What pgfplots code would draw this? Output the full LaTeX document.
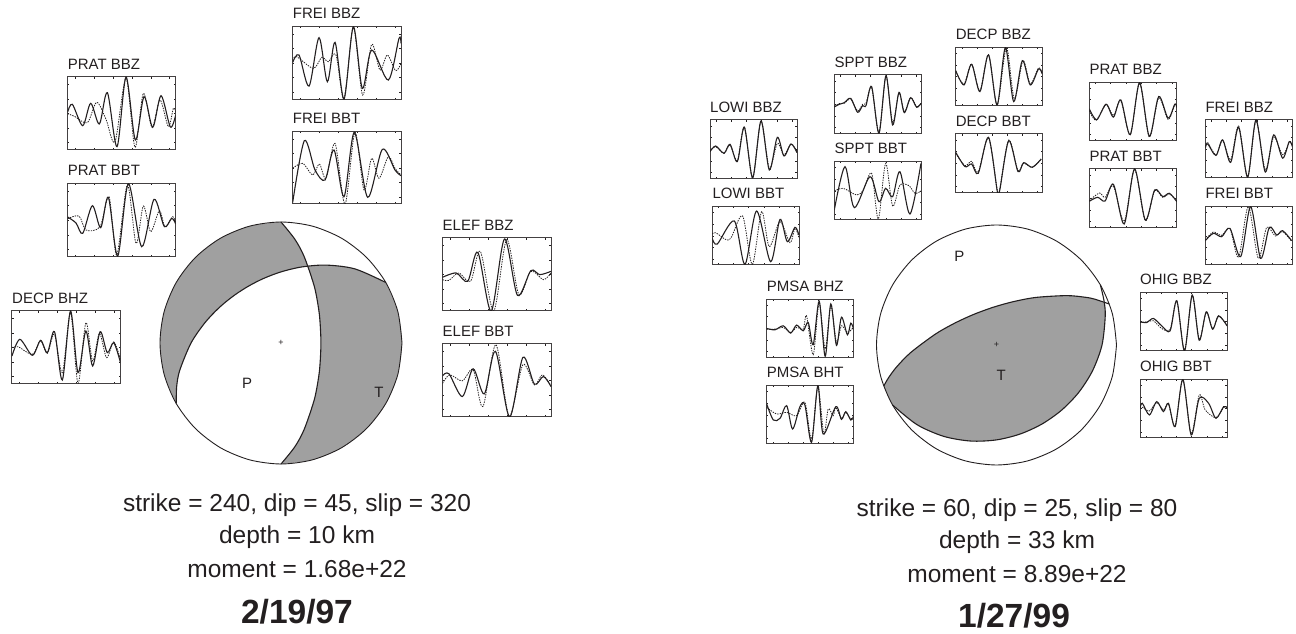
\documentclass[border=0pt]{standalone}
\usepackage{pgfplots}
\pgfplotsset{compat=1.18}
\usepackage{fontspec}
\setmainfont{Liberation Sans}
\definecolor{ink}{HTML}{231F20}
\definecolor{ballgray}{HTML}{A0A0A0}
\newcommand\wf[9]{%
\pgfmathsetmacro\xa{#5*.071}\pgfmathsetmacro\xb{#5*.244}\pgfmathsetmacro\xc{#5*.418}%
\pgfmathsetmacro\xd{#5*.594}\pgfmathsetmacro\xe{#5*.769}\pgfmathsetmacro\xf{#5*.944}%
\pgfmathsetmacro\ya{#6*.1}\pgfmathsetmacro\yb{#6*.3}\pgfmathsetmacro\yc{#6*.5}%
\pgfmathsetmacro\yd{#6*.7}\pgfmathsetmacro\ye{#6*.9}%
\begin{axis}[at={(#1pt,634pt-#2pt)},anchor=north west,scale only axis,width=#3pt,height=#4pt,
 xmin=0,xmax=#5,ymin=0,ymax=#6,y dir=reverse,
 xtick={\xa,\xb,\xc,\xd,\xe,\xf},ytick={\ya,\yb,\yc,\yd,\ye},
 xticklabels={},yticklabels={},tick align=inside,major tick length=1.6pt,
 tick style={ink,line width=.5pt},axis line style={ink!85,line width=1pt},
 title={\fontsize{15}{17}\selectfont #7},
 title style={at={(0,1)},anchor=south west,inner sep=0pt,yshift=1.5pt,text=ink}]
\addplot[ink,line width=.8pt,dash pattern=on 1.4pt off 1.1pt,smooth] coordinates {#9};
\addplot[ink,line width=1.1pt,smooth] coordinates {#8};
\end{axis}}
\begin{document}
\begin{tikzpicture}[x=1pt,y=1pt]
% ---- page frame and text
\begin{axis}[at={(0,0)},anchor=south west,scale only axis,width=1296pt,height=634pt,
 xmin=0,xmax=1296,ymin=0,ymax=634,y dir=reverse,hide axis]
\addplot[draw=none] coordinates {(0,0) (1296,634)};
\tikzset{lab/.style={text=ink,font=\fontsize{24.5}{28}\selectfont,inner sep=0pt},
 dat/.style={text=ink,font=\fontsize{33.5}{38}\bfseries\selectfont,inner sep=0pt}}
\node[lab] at (axis cs:297,505) {strike = 240, dip = 45, slip = 320};
\node[lab] at (axis cs:297,537) {depth = 10 km};
\node[lab] at (axis cs:297,569) {moment = 1.68e+22};
\node[dat] at (axis cs:297,612) {2/19/97};
\node[lab] at (axis cs:1017,510) {strike = 60, dip = 25, slip = 80};
\node[lab] at (axis cs:1017,542) {depth = 33 km};
\node[lab] at (axis cs:1017,574) {moment = 8.89e+22};
\node[dat] at (axis cs:1014,616) {1/27/99};
\end{axis}
% ---- left beachball
\begin{axis}[at={(281pt,291pt)},anchor=center,scale only axis,width=242pt,height=242pt,
 xmin=-1,xmax=1,ymin=-1,ymax=1,hide axis,clip=false]
\addplot[fill=ballgray,draw=none,smooth] coordinates {
(0,1)(0,1)(0,1)(-.2588,.9659)(-.5,.8660)(-.7071,.7071)(-.8660,.5)(-.9659,.2588)(-1,0)(-.9659,-.2588)(-.8660,-.5)(-.8660,-.5)(-.8660,-.5)
(-.8619,-.357)(-.8362,-.2241)(-.7435,0)(-.628,.1683)(-.509,.294)(-.3907,.3907)(-.2706,.4687)(-.143,.5338)(0,.5876)(.1683,.628)(.222,.633)(.222,.633)(.222,.633)
(.1914,.7144)(.1131,.8594)(0,1)(0,1)(0,1)} ;
\addplot[fill=ballgray,draw=none,smooth] coordinates {
(.222,.633)(.222,.633)(.222,.633)(.3718,.6439)(.6121,.6121)(.8660,.5)(.8660,.5)(.8660,.5)
(.9659,.2588)(1,0)(.9659,-.2588)(.8660,-.5)(.7071,-.7071)(.5,-.8660)(.2588,-.9659)(0,-1)(0,-1)(0,-1)
(.1131,-.8594)(.1914,-.7144)(.2736,-.4739)(.3071,-.3071)(.3281,-.0879)(.3301,0)(.3281,.0879)(.3071,.3071)(.2736,.4739)(.222,.633)(.222,.633)(.222,.633)};
\addplot[ink,line width=.9pt,smooth] coordinates {(1,0)(.9659,.2588)(.8660,.5)(.7071,.7071)(.5,.8660)(.2588,.9659)(0,1)(-.2588,.9659)(-.5,.8660)(-.7071,.7071)(-.8660,.5)(-.9659,.2588)(-1,0)(-.9659,-.2588)(-.8660,-.5)(-.7071,-.7071)(-.5,-.8660)(-.2588,-.9659)(0,-1)(.2588,-.9659)(.5,-.8660)(.7071,-.7071)(.8660,-.5)(.9659,-.2588)(1,0)};
\addplot[ink,line width=1.1pt,smooth] coordinates {(-.866,-.5)(-.8619,-.357)(-.8362,-.2241)(-.7435,0)(-.628,.1683)(-.509,.294)(-.3907,.3907)(-.2706,.4687)(-.143,.5338)(0,.5876)(.1683,.628)(.3718,.6439)(.6121,.6121)(.866,.5)};
\addplot[ink,line width=1.1pt,smooth] coordinates {(0,1)(.1131,.8594)(.1914,.7144)(.2736,.4739)(.3071,.3071)(.3218,.1858)(.3301,0)(.3218,-.1858)(.3071,-.3071)(.2736,-.4739)(.1914,-.7144)(.1131,-.8594)(0,-1)};
\node[text=ink,font=\fontsize{15}{17}\selectfont,inner sep=0pt] at (axis cs:-.28,-.33) {P};
\node[text=ink,font=\fontsize{15}{17}\selectfont,inner sep=0pt] at (axis cs:.81,-.41) {T};
\node[text=ink,font=\fontsize{9}{10}\selectfont,inner sep=0pt] at (axis cs:0,0) {+};
\end{axis}
% ---- right beachball
\begin{axis}[at={(996.5pt,289pt)},anchor=center,scale only axis,width=240pt,height=240pt,
 xmin=-1,xmax=1,ymin=-1,ymax=1,hide axis,clip=false]
\addplot[fill=ballgray,draw=none,smooth] coordinates {
(-.9397,-.342)(-.9397,-.342)(-.9397,-.342)(-.9014,-.2756)(-.8344,-.185)(-.7147,-.0625)(-.5104,.09)(-.3683,.1718)(-.2648,.2222)(-.1811,.2586)(-.1047,.2876)(-.0275,.3145)(.06,.3405)(.1718,.3683)(.3332,.397)(.5877,.4115)(.7462,.3968)(.8188,.3818)(.897,.357)(.897,.357)(.897,.357)
(.9062,.2428)(.8792,0)(.8004,-.2145)(.6849,-.3954)(.5427,-.5427)(.3799,-.658)(.1986,-.7413)(0,-.7908)(-.2145,-.8004)(-.4396,-.7614)(-.6634,-.6634)(-.866,-.5)(-.866,-.5)(-.866,-.5)(-.906,-.423)(-.9397,-.342)(-.9397,-.342)};
\addplot[ink,line width=.9pt,smooth] coordinates {(1,0)(.9659,.2588)(.8660,.5)(.7071,.7071)(.5,.8660)(.2588,.9659)(0,1)(-.2588,.9659)(-.5,.8660)(-.7071,.7071)(-.8660,.5)(-.9659,.2588)(-1,0)(-.9659,-.2588)(-.8660,-.5)(-.7071,-.7071)(-.5,-.8660)(-.2588,-.9659)(0,-1)(.2588,-.9659)(.5,-.8660)(.7071,-.7071)(.8660,-.5)(.9659,-.2588)(1,0)};
\addplot[ink,line width=1.1pt,smooth] coordinates {(-.9397,-.342)(-.9014,-.2756)(-.8344,-.185)(-.7147,-.0625)(-.5104,.09)(-.3683,.1718)(-.2648,.2222)(-.1811,.2586)(-.1047,.2876)(-.0275,.3145)(.06,.3405)(.1718,.3683)(.3332,.397)(.5877,.4115)(.7462,.3968)(.8188,.3818)(.9397,.342)};
\addplot[ink,line width=1.1pt,smooth] coordinates {(.866,.5)(.8954,.3709)(.9062,.2428)(.8792,0)(.8004,-.2145)(.6849,-.3954)(.5427,-.5427)(.3799,-.658)(.1986,-.7413)(0,-.7908)(-.2145,-.8004)(-.4396,-.7614)(-.6634,-.6634)(-.866,-.5)};
\node[text=ink,font=\fontsize{15}{17}\selectfont,inner sep=0pt] at (axis cs:-.31,.74) {P};
\node[text=ink,font=\fontsize{15}{17}\selectfont,inner sep=0pt] at (axis cs:.04,-.25) {T};
\node[text=ink,font=\fontsize{9}{10}\selectfont,inner sep=0pt] at (axis cs:0,0) {+};
\end{axis}
% ---- left waveforms
\wf{67.7}{77}{108}{73}{324}{219}{PRAT BBZ}
{(0,105)(14,82)(45,146)(69,79)(95,141)(119,47)(148,209)(175,0)(203,189)(229,59)(255,151)(280,56)(308,150)(324,114)}
{(0,110)(22,119)(59,137)(87,76)(115,127)(142,194)(175,4)(202,211)(227,49)(253,151)(277,69)(302,149)(317,94)(324,105)}
\wf{67.7}{183.7}{108}{73}{324}{219}{PRAT BBT}
{(0,100)(25,118)(45,149)(74,66)(99,132)(122,41)(150,217)(182,0)(222,189)(259,47)(290,129)(312,104)(324,121)}
{(0,105)(34,97)(55,139)(97,129)(124,39)(147,214)(179,4)(205,179)(227,67)(249,144)(275,81)(292,129)(315,99)(324,118)}
\wf{292.7}{26.7}{108.3}{72.7}{325}{218}{FREI BBZ}
{(0,107)(19,85)(49,178)(79,33)(104,165)(127,47)(154,217)(182,0)(209,185)(237,70)(287,160)(319,35)(325,50)}
{(0,100)(12,90)(62,125)(87,92)(107,105)(130,85)(154,215)(182,2)(210,205)(237,53)(262,130)(284,85)(309,132)(325,110)}
\wf{292.7}{131.7}{108.3}{72.3}{325}{217}{FREI BBT}
{(0,212)(35,27)(67,115)(97,145)(124,55)(154,195)(185,2)(225,197)(269,53)(307,115)(325,132)}
{(0,110)(30,95)(60,130)(80,97)(100,140)(127,35)(157,217)(187,2)(214,175)(237,80)(259,140)(287,75)(307,110)(325,130)}
\wf{12}{311}{108.5}{73}{304}{219}{DECP BHZ}
{(0,135)(22,85)(57,133)(80,88)(99,125)(119,62)(141,207)(164,0)(185,185)(207,60)(226,165)(247,62)(267,125)(285,95)(304,155)}
{(0,110)(17,107)(57,130)(80,90)(99,127)(119,70)(141,185)(164,5)(185,217)(207,35)(226,150)(245,67)(265,140)(285,93)(304,145)}
\wf{442.5}{238}{108.5}{73}{301}{219}{ELEF BBZ}
{(0,118)(38,105)(70,130)(98,43)(135,219)(172,3)(208,172)(245,98)(270,110)(301,100)}
{(0,125)(18,127)(45,105)(78,130)(105,40)(142,219)(178,5)(212,170)(245,100)(280,125)(301,105)}
\wf{442.5}{344}{108.5}{73}{301}{218}{ELEF BBT}
{(0,95)(18,89)(55,157)(85,74)(116,149)(147,22)(186,218)(223,40)(255,120)(280,97)(301,127)}
{(0,118)(20,92)(55,110)(85,77)(112,187)(148,2)(185,215)(223,62)(255,122)(277,92)(301,125)}
% ---- right waveforms
\wf{710}{120}{87}{58.3}{261}{175}{LOWI BBZ}
{(0,95)(17,78)(42,100)(60,73)(82,125)(103,22)(128,173)(153,3)(178,150)(202,52)(222,108)(243,72)(261,98)}
{(0,93)(17,80)(42,100)(60,75)(82,122)(103,20)(128,175)(153,3)(178,145)(202,70)(222,105)(243,72)(261,95)}
\wf{712.3}{206.7}{87}{58.3}{261}{175}{LOWI BBT}
{(0,95)(15,112)(66,43)(98,173)(133,13)(175,165)(203,38)(225,105)(248,62)(260,85)}
{(0,82)(10,78)(43,100)(58,90)(91,28)(120,173)(148,15)(171,120)(203,45)(233,108)(248,65)(260,92)}
\wf{834.3}{75}{87}{58.3}{261}{175}{SPPT BBZ}
{(0,96)(15,88)(30,83)(49,70)(70,112)(85,92)(95,92)(112,35)(134,175)(155,2)(175,150)(194,52)(210,113)(229,68)(247,97)(260,85)}
{(0,94)(15,86)(30,85)(49,72)(70,108)(85,88)(95,85)(112,38)(134,172)(155,4)(175,142)(194,54)(210,110)(229,68)(247,95)(260,85)}
\wf{834.3}{161.7}{87}{58.3}{261}{175}{SPPT BBT}
{(0,145)(32,15)(60,138)(107,45)(134,120)(154,80)(175,105)(197,30)(227,157)(260,5)}
{(0,88)(27,80)(67,100)(87,85)(112,35)(132,172)(154,5)(175,133)(197,70)(224,72)(242,95)(260,88)}
\wf{955.7}{47.3}{86.5}{58.3}{261}{175}{DECP BBZ}
{(0,70)(25,113)(48,51)(73,133)(99,23)(125,173)(150,1)(175,163)(201,40)(225,113)(250,65)(261,80)}
{(0,72)(25,110)(48,50)(73,130)(99,22)(125,173)(153,1)(177,155)(203,40)(225,110)(250,62)(261,78)}
\wf{955.7}{134}{86.5}{58.3}{261}{175}{DECP BBT}
{(0,55)(28,98)(48,90)(68,118)(99,10)(126,175)(133,168)(160,20)(188,113)(205,86)(231,100)(258,75)}
{(0,58)(28,95)(48,82)(68,114)(99,12)(126,172)(133,165)(160,18)(188,110)(205,88)(231,100)(258,75)}
\wf{1089.3}{82.3}{87.5}{58}{261}{175}{PRAT BBZ}
{(0,80)(22,113)(50,66)(72,105)(94,53)(122,158)(150,1)(179,163)(207,43)(235,108)(255,66)(261,75)}
{(0,85)(20,115)(50,68)(72,100)(94,56)(122,158)(150,3)(179,165)(207,47)(235,112)(255,68)(261,78)}
\wf{1089.3}{169}{87.5}{58.3}{261}{175}{PRAT BBT}
{(0,97)(25,85)(47,96)(72,46)(104,165)(135,0)(167,153)(195,63)(219,83)(239,73)(261,98)}
{(0,95)(30,72)(47,85)(72,52)(104,157)(135,2)(167,155)(195,65)(219,85)(239,75)(261,96)}
\wf{1205.3}{120}{87}{58}{261}{175}{FREI BBZ}
{(0,85)(7,72)(32,107)(52,60)(76,128)(100,22)(127,172)(152,0)(180,157)(205,45)(232,115)(252,65)(261,80)}
{(0,80)(7,68)(32,105)(52,62)(76,120)(100,18)(127,172)(152,3)(180,150)(205,52)(232,105)(252,68)(261,78)}
\wf{1205.3}{206.7}{87}{58.3}{261}{175}{FREI BBT}
{(0,102)(24,80)(49,90)(74,65)(106,150)(136,0)(166,155)(192,62)(214,85)(232,72)(259,102)}
{(0,100)(24,76)(49,86)(74,66)(100,152)(129,0)(159,155)(184,62)(210,88)(232,75)(259,104)}
\wf{766.7}{299.3}{86.7}{58}{261}{175}{PMSA BHZ}
{(0,88)(25,92)(50,80)(72,102)(90,78)(110,95)(125,70)(140,137)(158,6)(176,172)(193,14)(210,139)(225,54)(243,107)(253,72)(261,88)}
{(0,90)(25,90)(50,85)(72,100)(90,85)(110,90)(120,50)(140,167)(158,10)(176,150)(193,20)(210,130)(225,80)(243,100)(261,85)}
\wf{766.7}{385.7}{86.7}{58.3}{261}{175}{PMSA BHT}
{(0,55)(20,103)(40,98)(60,60)(78,130)(100,63)(115,58)(135,170)(154,0)(170,145)(208,63)(225,101)(238,78)(253,103)(261,95)}
{(0,65)(30,85)(60,80)(90,90)(115,50)(135,160)(154,2)(172,145)(185,70)(200,90)(208,65)(225,98)(238,80)(253,100)(261,92)}
\wf{1140}{292.3}{87}{58.7}{260}{175}{OHIG BBZ}
{(0,88)(20,90)(40,78)(65,100)(90,115)(110,25)(133,175)(156,8)(177,143)(198,58)(217,110)(235,70)(260,100)}
{(0,90)(20,88)(40,85)(65,108)(90,110)(110,28)(133,172)(156,10)(177,140)(198,60)(217,108)(235,72)(260,98)}
\wf{1140}{379.3}{87}{58.3}{260}{175}{OHIG BBT}
{(0,87)(7,72)(28,107)(50,67)(70,97)(85,72)(105,142)(128,0)(153,167)(177,57)(205,72)(227,117)(250,82)(260,85)}
{(0,87)(7,84)(28,95)(50,70)(70,92)(85,75)(105,140)(128,2)(153,163)(177,47)(195,92)(227,115)(250,85)(260,85)}
\end{tikzpicture}
\end{document}
